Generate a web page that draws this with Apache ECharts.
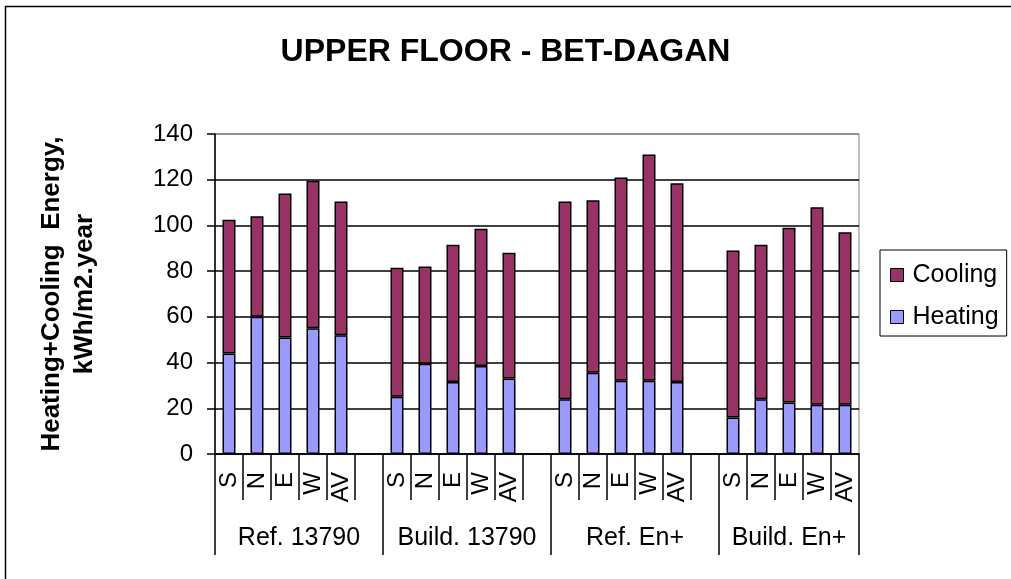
<!DOCTYPE html>
<html>
<head>
<meta charset="utf-8">
<script src="https://cdn.jsdelivr.net/npm/echarts@6/dist/echarts.min.js"></script>
<style>
html, body { margin: 0; padding: 0; background: #fff; }
#main { width: 1011px; height: 579px; }
</style>
</head>
<body>
<div id="main"></div>
<script>
// groups of bars, each one has the orientations S N E W AV
var groups = ['Ref. 13790', 'Build. 13790', 'Ref. En+', 'Build. En+'];
var orients = ['S', 'N', 'E', 'W', 'AV'];

// kWh/m2.year (group by group, S N E W AV)
var heating = [44, 60, 51, 55, 52,
               25, 39.5, 31.5, 38.5, 33,
               24, 35.5, 32, 32, 31.5,
               16, 24, 22.5, 21.5, 21.5];
var cooling = [58.5, 44, 63, 64.5, 58.5,
               56.5, 42.5, 60, 60, 55,
               86.5, 75.5, 89, 99, 87,
               73, 67.5, 76.5, 86.5, 75.5];

var yTicks = [0, 20, 40, 60, 80, 100, 120, 140];

// build the slot axis: 5 bars then an empty slot between groups
var slotCats = [], heatData = [], coolData = [];
var groupStart = [], groupSize = [];
groups.forEach(function(g, gi) {
    var n = orients.length + (gi < groups.length - 1 ? 1 : 0);
    groupStart.push(slotCats.length);
    groupSize.push(n);
    for (var k = 0; k < n; k++) {
        if (k < orients.length) {
            var i = gi * orients.length + k;
            slotCats.push(orients[k]);
            heatData.push(heating[i]);
            coolData.push(cooling[i]);
        } else {
            slotCats.push('');
            heatData.push(null);
            coolData.push(null);
        }
    }
});

// second axis at half slot steps, for group names and the long separators
var halfCats = [];
for (var h = 0; h <= slotCats.length * 2; h++) halfCats.push('');
var groupTicks = {};
groups.forEach(function(g, gi) {
    halfCats[2 * groupStart[gi] + groupSize[gi]] = g;
    groupTicks[2 * groupStart[gi]] = true;
});
groupTicks[slotCats.length * 2] = true;

var font = 'Liberation Sans, Arial, sans-serif';
var myChart = echarts.init(document.getElementById('main'));

var option = {
    animation: false,
    backgroundColor: '#fff',
    title: {
        text: 'UPPER FLOOR - BET-DAGAN',
        left: 'center',
        top: 36,
        padding: 0,
        textStyle: { fontFamily: font, fontSize: 32, fontWeight: 'bold', color: '#000', lineHeight: 32 }
    },
    graphic: [{
        type: 'rect',
        shape: { x: 5.5, y: 6.5, width: 1100, height: 700 },
        style: { fill: 'none', stroke: '#000', lineWidth: 1.5 },
        silent: true
    }],
    legend: {
        orient: 'vertical',
        left: 880,
        top: 250,
        padding: [12, 8, 6, 10],
        itemWidth: 13,
        itemHeight: 13,
        itemGap: 16,
        icon: 'rect',
        borderColor: '#000',
        borderWidth: 1,
        data: ['Cooling', 'Heating'],
        itemStyle: { borderColor: '#000', borderWidth: 1 },
        textStyle: { fontFamily: font, fontSize: 25, color: '#000', lineHeight: 26, padding: [0, 0, 0, 4] }
    },
    grid: {
        left: 215,
        right: 152,
        top: 134,
        bottom: 125,
        show: true,
        borderColor: '#808080',
        borderWidth: 1
    },
    xAxis: [{
        type: 'category',
        data: slotCats,
        position: 'bottom',
        axisLine: { show: true, lineStyle: { color: '#000', width: 1.5 } },
        axisTick: { show: true, interval: 0, length: 46, lineStyle: { color: '#000', width: 1.5 } },
        axisLabel: {
            interval: 0,
            rotate: 90,
            margin: 18,
            fontFamily: font,
            fontSize: 24,
            color: '#000',
            padding: [0, 0, 10, 0]
        },
        splitLine: { show: false }
    }, {
        type: 'category',
        data: halfCats,
        position: 'bottom',
        boundaryGap: false,
        axisLine: { show: false },
        axisTick: {
            show: true,
            interval: function(index) { return !!groupTicks[index]; },
            length: 101,
            lineStyle: { color: '#000', width: 1.5 }
        },
        axisLabel: {
            interval: function(index, value) { return value !== ''; },
            margin: 72,
            fontFamily: font,
            fontSize: 25,
            lineHeight: 25,
            color: '#000'
        },
        splitLine: { show: false }
    }],
    yAxis: {
        type: 'value',
        min: yTicks[0],
        max: yTicks[yTicks.length - 1],
        interval: 20,
        name: 'Heating+Cooling  Energy,\nkWh/m2.year',
        nameLocation: 'middle',
        nameRotate: 90,
        nameGap: 114,
        nameTextStyle: { fontFamily: font, fontSize: 26, fontWeight: 'bold', color: '#000', lineHeight: 33 },
        axisLine: { show: true, lineStyle: { color: '#000', width: 1.5 } },
        axisTick: { show: true, length: 8, lineStyle: { color: '#000', width: 1.5 } },
        axisLabel: { margin: 22, fontFamily: font, fontSize: 24, color: '#000' },
        splitLine: {
            show: true,
            lineStyle: { color: ['#000', '#000', '#000', '#000', '#000', '#000', '#000', '#808080'], width: 1.5 }
        }
    },
    series: [{
        name: 'Heating',
        type: 'bar',
        stack: 'total',
        xAxisIndex: 0,
        barWidth: 13,
        data: heatData,
        itemStyle: { color: '#9999FF', borderColor: '#000', borderWidth: 1.5 }
    }, {
        name: 'Cooling',
        type: 'bar',
        stack: 'total',
        xAxisIndex: 0,
        barWidth: 13,
        data: coolData,
        itemStyle: { color: '#993366', borderColor: '#000', borderWidth: 1.5 }
    }]
};

myChart.setOption(option);
</script>
</body>
</html>
